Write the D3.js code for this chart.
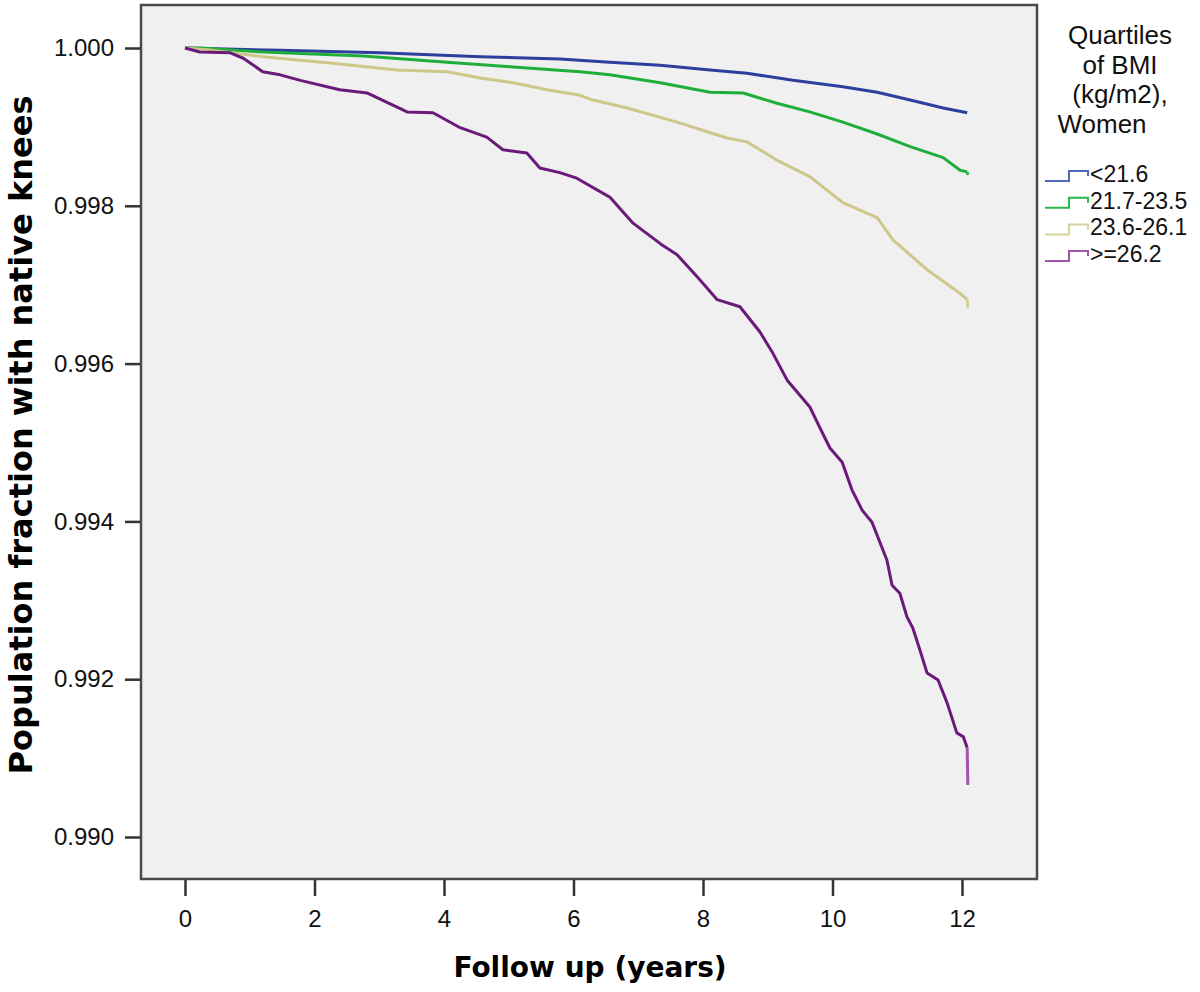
<!DOCTYPE html>
<html>
<head>
<meta charset="utf-8">
<script src="https://cdn.jsdelivr.net/npm/d3@7"></script>
<style>
  body { margin: 0; background: #fff; }
  svg { display: block; font-family: "Liberation Sans", Arial, sans-serif; }
</style>
</head>
<body>
<svg id="chart"></svg>
<script>
// Kaplan-Meier curves (time in years, survival fraction)
const seriesNames = ["<21.6", "21.7-23.5", "23.6-26.1", ">=26.2"];

const timesQ1 = [0, 1.47, 3.01, 4.56, 5.79, 6.56, 7.34, 8.11, 8.68, 9.39, 10.16, 10.69, 11.20, 11.71, 12.08];
const valuesQ1 = [1.0, 0.99997, 0.99994, 0.99989, 0.99986, 0.99982, 0.99978, 0.99972, 0.99968, 0.99959, 0.99951, 0.99944, 0.99934, 0.99924, 0.99918];

const timesQ2 = [0, 0.23, 1.20, 2.75, 4.05, 5.07, 6.10, 6.56, 7.34, 8.11, 8.62, 9.14, 9.65, 10.16, 10.69, 11.20, 11.71, 11.97, 12.08, 12.09];
const valuesQ2 = [1.0, 1.0, 0.99995, 0.99990, 0.99982, 0.99976, 0.99970, 0.99966, 0.99956, 0.99944, 0.99943, 0.99930, 0.99919, 0.99906, 0.99891, 0.99875, 0.99861, 0.99845, 0.99843, 0.99839];

const timesQ3 = [0, 0.43, 1.20, 2.24, 3.27, 4.05, 4.56, 5.07, 5.59, 6.10, 6.30, 6.83, 7.60, 8.37, 8.68, 9.14, 9.65, 10.16, 10.69, 10.93, 11.46, 11.97, 12.08, 12.09];
const valuesQ3 = [1.0, 0.99997, 0.99989, 0.99981, 0.99972, 0.99970, 0.99962, 0.99956, 0.99947, 0.99940, 0.99934, 0.99924, 0.99906, 0.99886, 0.99881, 0.99858, 0.99837, 0.99804, 0.99785, 0.99757, 0.99719, 0.99689, 0.99681, 0.99670];

const timesQ4 = [0, 0.23, 0.69, 0.90, 1.20, 1.47, 1.78, 2.39, 2.81, 3.43, 3.83, 4.25, 4.66, 4.91, 5.28, 5.48, 5.79, 6.05, 6.56, 6.92, 7.34, 7.60, 7.91, 8.22, 8.57, 8.88, 9.08, 9.30, 9.65, 9.81, 9.96, 10.15, 10.30, 10.46, 10.61, 10.84, 10.92, 11.04, 11.15, 11.24, 11.35, 11.46, 11.63, 11.77, 11.92, 12.02, 12.08, 12.09];
const valuesQ4 = [1.0, 0.99995, 0.99994, 0.99987, 0.99970, 0.99966, 0.99959, 0.99947, 0.99943, 0.99919, 0.99918, 0.99899, 0.99887, 0.99871, 0.99867, 0.99848, 0.99842, 0.99835, 0.99811, 0.99778, 0.99752, 0.99738, 0.99710, 0.99681, 0.99672, 0.99640, 0.99613, 0.99579, 0.99545, 0.99518, 0.99493, 0.99475, 0.99440, 0.99414, 0.99399, 0.99351, 0.99319, 0.99309, 0.99279, 0.99265, 0.99237, 0.99208, 0.99199, 0.99170, 0.99132, 0.99127, 0.99113, 0.99066];

const xTicks = [0, 2, 4, 6, 8, 10, 12];
const yTicks = [0.990, 0.992, 0.994, 0.996, 0.998, 1.000];
const legendTitle = ["Quartiles", "of BMI", "(kg/m2),", "Women"];

const lineColors = ["#2c3f9e", "#1fae3a", "#cdc78a", "#6a1a78"];
const legendColors = ["#5268be", "#2bb84b", "#d6d29c", "#a255ab"];

const series = [
  { name: seriesNames[0], times: timesQ1, values: valuesQ1 },
  { name: seriesNames[1], times: timesQ2, values: valuesQ2 },
  { name: seriesNames[2], times: timesQ3, values: valuesQ3 },
  { name: seriesNames[3], times: timesQ4, values: valuesQ4 }
];

const W = 1200, H = 992;
const svg = d3.select("#chart").attr("width", W).attr("height", H);

const x = d3.scaleLinear().domain([0, 12]).range([185, 962]);
const y = d3.scaleLinear().domain([0.990, 1.000]).range([837, 48]);

// plot frame
svg.append("rect")
  .attr("x", 141).attr("y", 5)
  .attr("width", 896).attr("height", 874)
  .attr("fill", "#f0f0f0")
  .attr("stroke", "#4a4a4a")
  .attr("stroke-width", 2.5);

// axes
const yAxis = svg.append("g")
  .attr("transform", "translate(140,0)")
  .call(d3.axisLeft(y).tickValues(yTicks).tickFormat(d3.format(".3f")).tickSize(15).tickPadding(11));
const xAxis = svg.append("g")
  .attr("transform", "translate(0,880)")
  .call(d3.axisBottom(x).tickValues(xTicks).tickSize(16).tickPadding(14));

[xAxis, yAxis].forEach(g => {
  g.select(".domain").remove();
  g.selectAll(".tick line").attr("stroke", "#333").attr("stroke-width", 2.5);
  g.selectAll(".tick text").attr("fill", "#111")
    .style("font-family", "'Liberation Sans', Arial, sans-serif").style("font-size", "24px");
});

// axis titles
svg.append("text")
  .attr("x", 590).attr("y", 977)
  .attr("text-anchor", "middle")
  .style("font-family", "'DejaVu Sans', sans-serif")
  .style("font-weight", "bold").style("font-size", "28px")
  .text("Follow up (years)");

svg.append("text")
  .attr("transform", "translate(32,435) rotate(-90)")
  .attr("text-anchor", "middle")
  .style("font-family", "'DejaVu Sans', sans-serif")
  .style("font-weight", "bold").style("font-size", "32px")
  .text("Population fraction with native knees");

// survival curves (many tiny steps in the source, drawn through the read points)
const line = d3.line()
  .x(d => x(d[0]))
  .y(d => y(d[1]));

const pts = s => s.times.map((t, i) => [t, s.values[i]]);
// last drop right at the end of follow-up is drawn lighter in the source
const hasTail = s => {
  const n = s.times.length;
  return s.times[n - 1] - s.times[n - 2] < 0.05;
};

const curves = svg.append("g");
curves.selectAll("path.main")
  .data(series).enter().append("path")
  .attr("class", "main")
  .attr("d", s => line(hasTail(s) ? pts(s).slice(0, -1) : pts(s)))
  .attr("fill", "none")
  .attr("stroke", (s, i) => lineColors[i])
  .attr("stroke-width", 3)
  .attr("stroke-linejoin", "round");

curves.selectAll("path.tail")
  .data(series.map((s, i) => ({ s, i })).filter(d => hasTail(d.s))).enter().append("path")
  .attr("class", "tail")
  .attr("d", d => line(pts(d.s).slice(-2)))
  .attr("fill", "none")
  .attr("stroke", d => legendColors[d.i])
  .attr("stroke-width", 3);

// legend
const legend = svg.append("g");
const titleY = [44, 73.5, 103, 132.5];
const titleX = [1120, 1120, 1120, 1102];
legend.selectAll("text.title")
  .data(legendTitle).enter().append("text")
  .attr("class", "title")
  .attr("x", (d, i) => titleX[i]).attr("y", (d, i) => titleY[i])
  .attr("text-anchor", "middle")
  .style("font-size", "26px").attr("fill", "#111")
  .text(d => d);

const entry = legend.selectAll("g.entry")
  .data(seriesNames).enter().append("g")
  .attr("class", "entry")
  .attr("transform", (d, i) => `translate(0,${182 + i * 26.7})`);

entry.append("path")
  .attr("d", "M1045,-1 H1069 V-11 H1088 V-6")
  .attr("fill", "none")
  .attr("stroke", (d, i) => legendColors[i])
  .attr("stroke-width", 2);

entry.append("text")
  .attr("x", 1090).attr("y", 0)
  .style("font-size", "23px").attr("fill", "#111")
  .text(d => d);
</script>
</body>
</html>
